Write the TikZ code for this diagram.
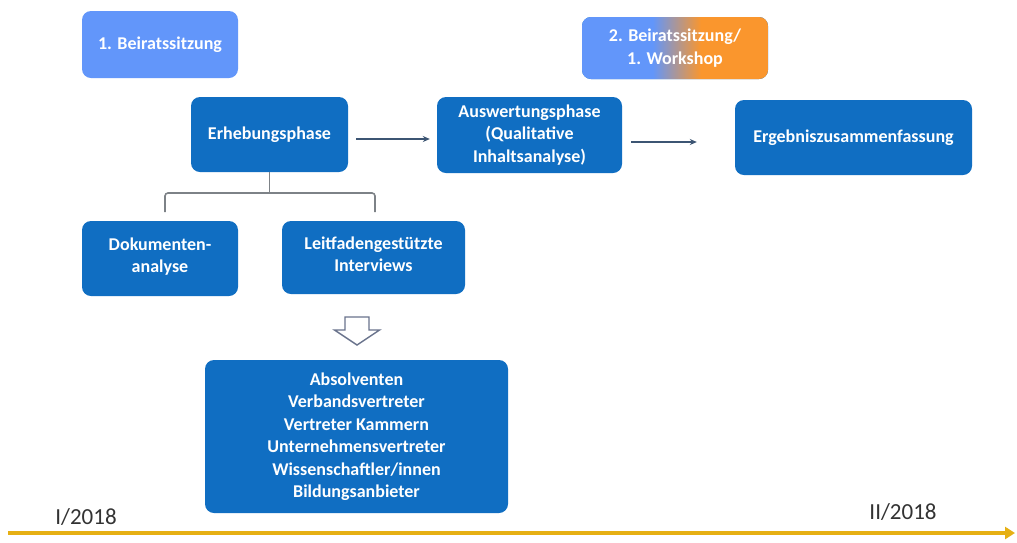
\documentclass[tikz,border=0pt]{standalone}
\usepackage{fontspec}
\setmainfont{Carlito}
\usetikzlibrary{arrows.meta}
\definecolor{dblue}{RGB}{16,110,194}
\definecolor{lblue}{RGB}{98,150,250}
\definecolor{orng}{RGB}{250,150,45}
\definecolor{gold}{RGB}{230,176,20}
\definecolor{arrc}{RGB}{60,85,115}
\definecolor{brk}{RGB}{125,130,135}
\definecolor{hol}{RGB}{105,115,140}
\pgfdeclarehorizontalshading{bwshade}{100bp}{color(0bp)=(lblue); color(44bp)=(lblue); color(57bp)=(orng); color(100bp)=(orng)}
\begin{document}
\begin{tikzpicture}[x=1pt,y=-1pt,
  box/.style={rounded corners=9pt, fill=dblue, text=white,
    font=\bfseries\fontsize{18}{22.5}\selectfont, align=center, inner sep=0pt},
  conn/.style={draw=arrc, line width=1.3pt, -{Stealth[length=7pt,width=6pt]}},
  bracket/.style={draw=brk, line width=1.6pt, rounded corners=3pt},
  hollow/.style={draw=hol, line width=1.4pt, fill=white, line join=miter},
  timeline/.style={draw=gold, line width=3.5pt, -{Triangle[length=10pt,width=12pt]}},
  lbl/.style={text=black!80, font=\fontsize{23}{27}\selectfont, inner sep=0pt}]
\useasboundingbox[fill=white] (0,0) rectangle (1017,542);

\node[box, fill=lblue, minimum width=156pt, minimum height=67pt] (b1) at (160,44.5) {1. Beiratssitzung};
\node[box, shading=bwshade, minimum width=186pt, minimum height=62pt] (b2) at (675,48) {2. Beiratssitzung/\\1. Workshop};

\node[box, minimum width=157pt, minimum height=75pt] (erh) at (269.5,134.5) {Erhebungsphase};
\node[box, minimum width=185pt, minimum height=76pt] (ausw) at (529.5,135) {Auswertungsphase\\(Qualitative\\Inhaltsanalyse)};
\node[box, minimum width=237pt, minimum height=75pt] (erg) at (853.5,137.5) {Ergebniszusammenfassung};

\node[box, minimum width=156pt, minimum height=75pt] (dok) at (160,258.5) {Dokumenten-\\analyse\strut};
\node[box, minimum width=183pt, minimum height=73pt] (leit) at (373.5,257.5) {Leitfadengestützte\\Interviews\strut};

\node[box, minimum width=303pt, minimum height=153pt] (grp) at (356.5,436.5)
 {Absolventen\\Verbandsvertreter\\Vertreter Kammern\\Unternehmensvertreter\\Wissenschaftler/innen\\Bildungsanbieter};

\draw[conn, shorten <=8pt, shorten >=7pt] ([yshift=-4.5pt]erh.east) -- ([yshift=-4.5pt]erh.east -| ausw.west);
\draw[conn, shorten <=9pt, shorten >=38pt] ([yshift=-7pt]ausw.east) -- ([yshift=-7pt]ausw.east -| erg.west);

\coordinate (bm) at (269.5,193);
\coordinate (bl) at (165,212);
\coordinate (br) at (375,212);
\draw[bracket] (bl) |- (bm) -| (br);
\draw[bracket] (erh.south) -- (bm);

\coordinate (ha) at (357,317);
\draw[hollow] (ha) ++(-12,0) -- ++(24,0) -- ++(0,13) -- ++(10.5,0) -- ++(-22.5,15) -- ++(-22.5,-15) -- ++(10.5,0) -- cycle;

\coordinate (ts) at (8,533);
\coordinate (te) at (1015,533);
\draw[timeline] (ts) -- (te);
\node[lbl] (t1) at (86,517) {I/2018};
\node[lbl] (t2) at (903,512) {II/2018};
\end{tikzpicture}
\end{document}
